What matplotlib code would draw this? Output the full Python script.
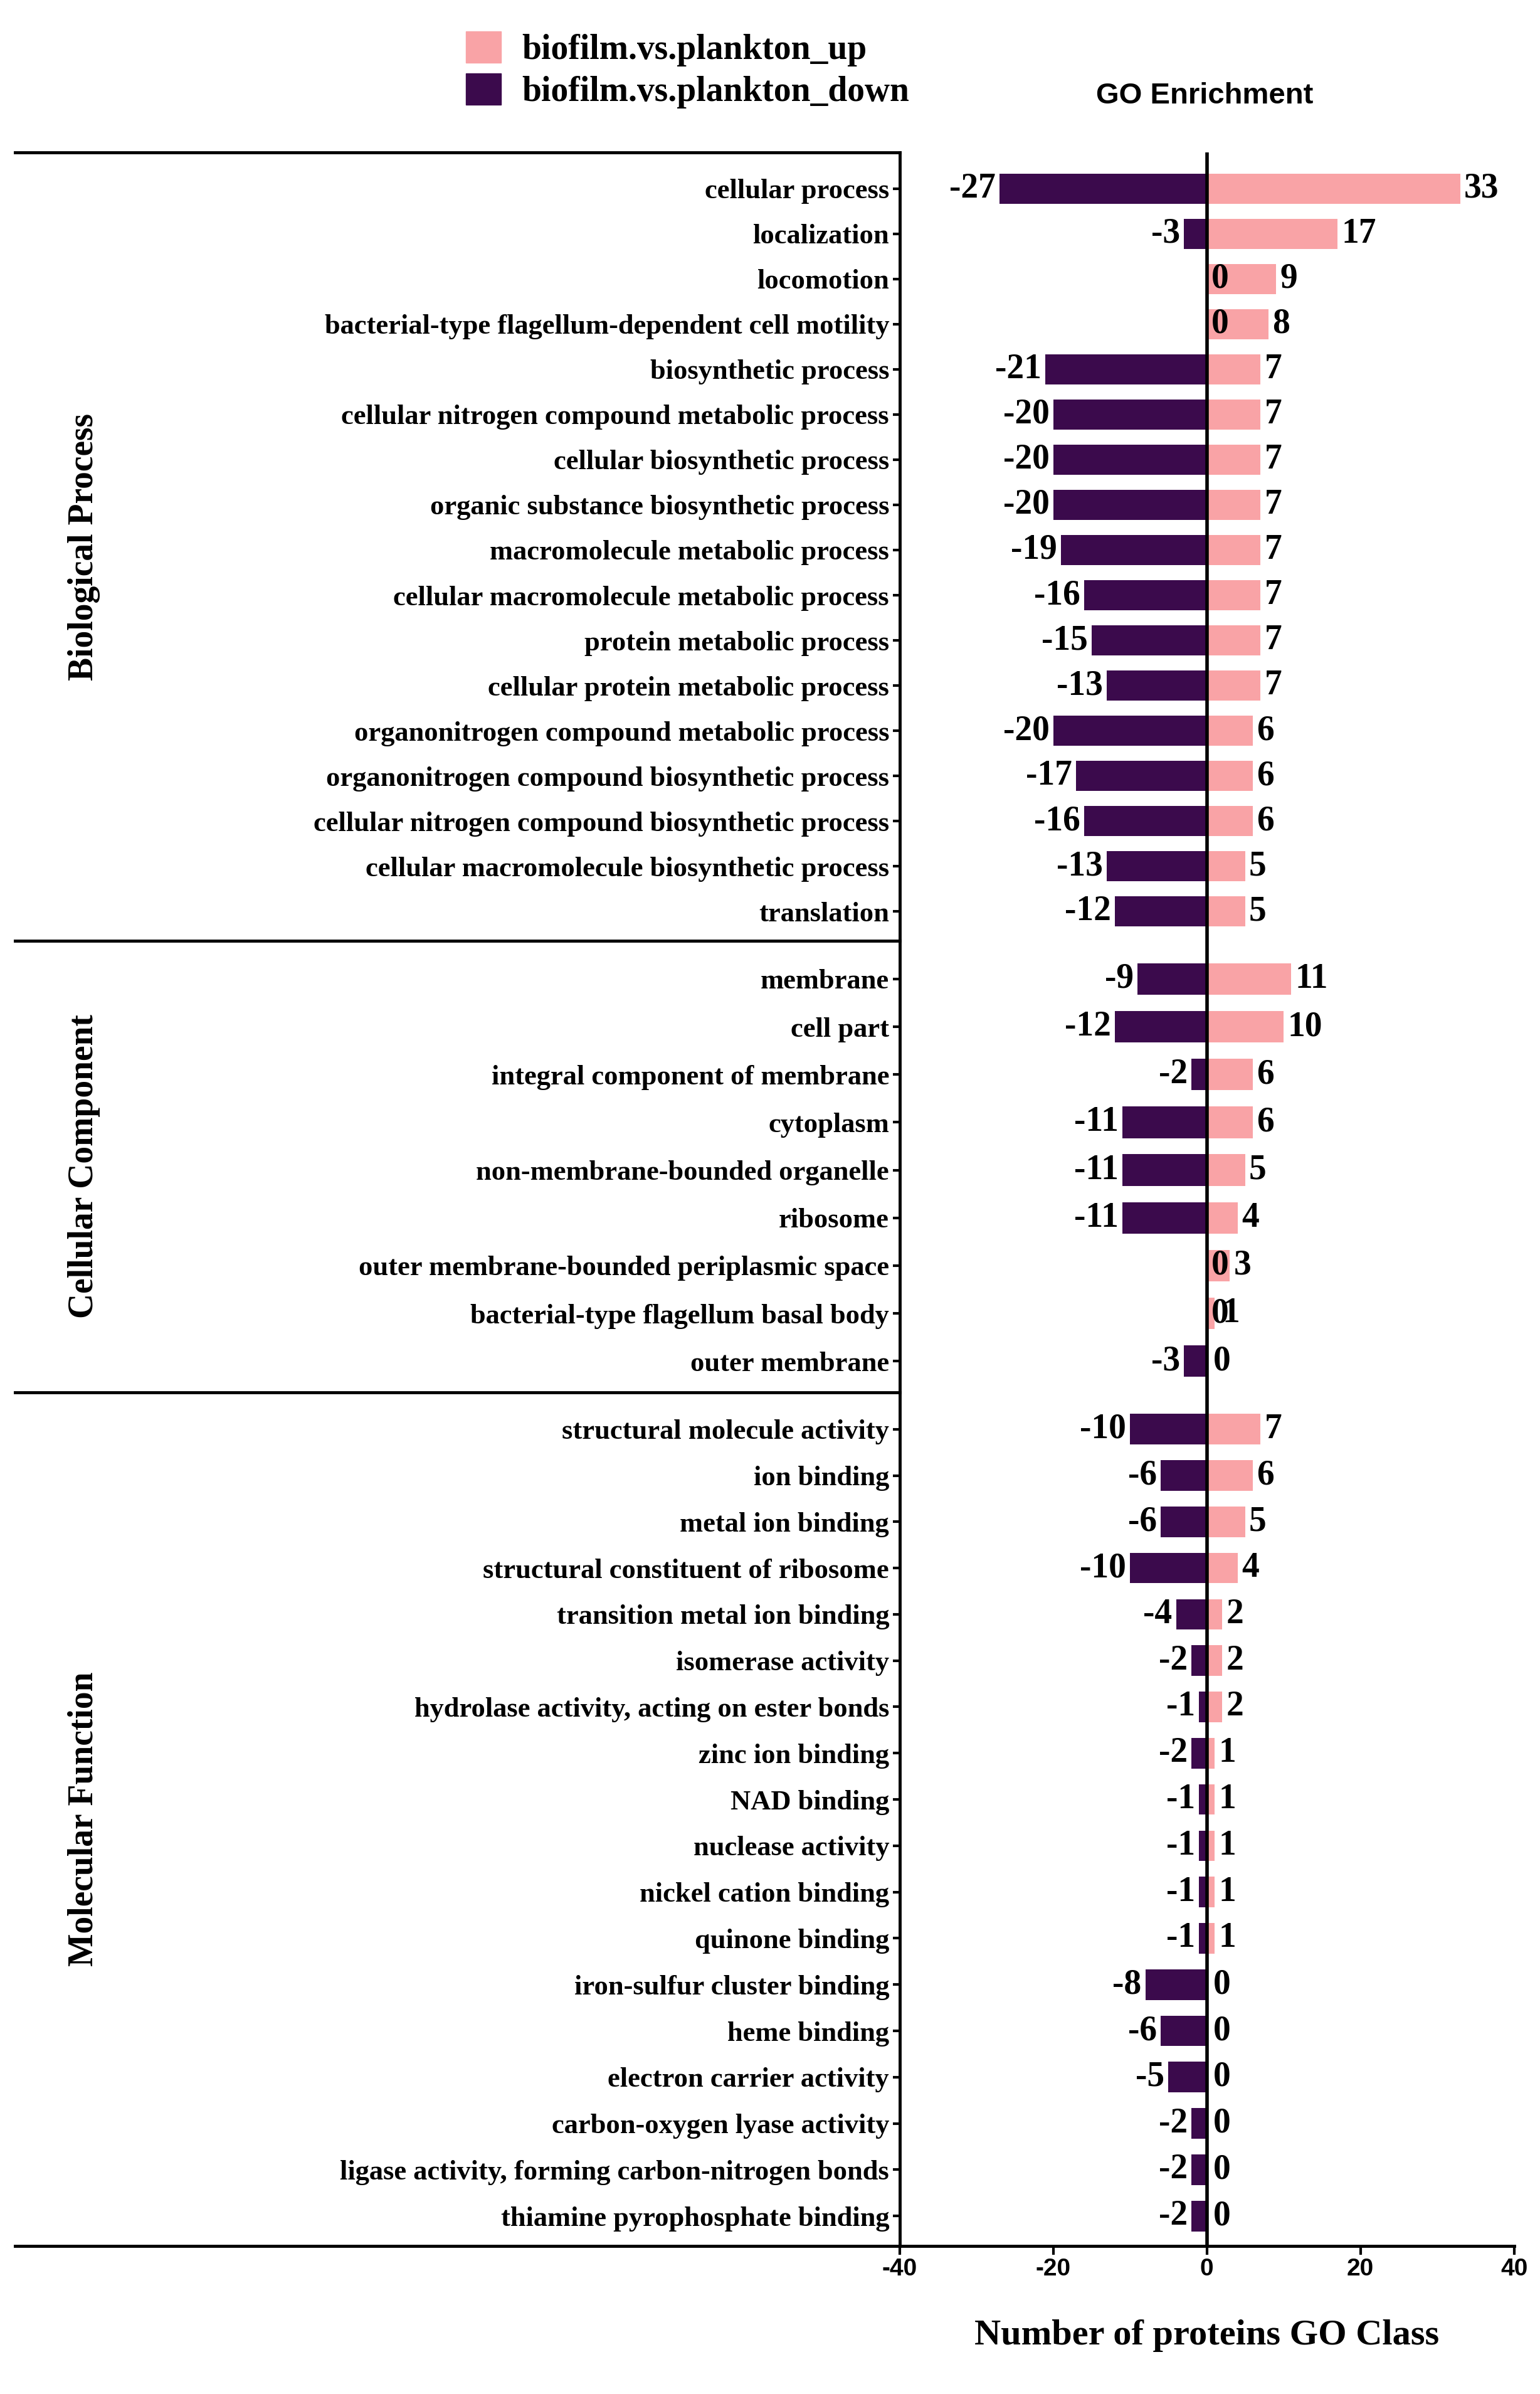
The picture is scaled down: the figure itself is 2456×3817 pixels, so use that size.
import matplotlib
matplotlib.use("Agg")
import matplotlib.pyplot as plt
from matplotlib.patches import Patch
plt.rcParams["axes.unicode_minus"] = False

bp_terms = ["cellular process","localization","locomotion","bacterial-type flagellum-dependent cell motility",
 "biosynthetic process","cellular nitrogen compound metabolic process","cellular biosynthetic process",
 "organic substance biosynthetic process","macromolecule metabolic process","cellular macromolecule metabolic process",
 "protein metabolic process","cellular protein metabolic process","organonitrogen compound metabolic process",
 "organonitrogen compound biosynthetic process","cellular nitrogen compound biosynthetic process",
 "cellular macromolecule biosynthetic process","translation"]
bp_up = [33,17,9,8,7,7,7,7,7,7,7,7,6,6,6,5,5]
bp_down = [-27,-3,0,0,-21,-20,-20,-20,-19,-16,-15,-13,-20,-17,-16,-13,-12]

cc_terms = ["membrane","cell part","integral component of membrane","cytoplasm","non-membrane-bounded organelle",
 "ribosome","outer membrane-bounded periplasmic space","bacterial-type flagellum basal body","outer membrane"]
cc_up = [11,10,6,6,5,4,3,1,0]
cc_down = [-9,-12,-2,-11,-11,-11,0,0,-3]

mf_terms = ["structural molecule activity","ion binding","metal ion binding","structural constituent of ribosome",
 "transition metal ion binding","isomerase activity","hydrolase activity, acting on ester bonds","zinc ion binding",
 "NAD binding","nuclease activity","nickel cation binding","quinone binding","iron-sulfur cluster binding",
 "heme binding","electron carrier activity","carbon-oxygen lyase activity","ligase activity, forming carbon-nitrogen bonds",
 "thiamine pyrophosphate binding"]
mf_up = [7,6,5,4,2,2,2,1,1,1,1,1,0,0,0,0,0,0]
mf_down = [-10,-6,-6,-10,-4,-2,-1,-2,-1,-1,-1,-1,-8,-6,-5,-2,-2,-2]

groups = ["Biological Process","Cellular Component","Molecular Function"]
UP = "#F9A3A6"; DOWN = "#3B0A4C"
serif = "Liberation Serif"; sans = "Liberation Sans"
VF = 40

H = 1570.0; W = 1010.0
fig = plt.figure(figsize=(24.56, 38.17), dpi=100)
panels = [(bp_terms, bp_up, bp_down, 100, 617), (cc_terms, cc_up, cc_down, 617, 913), (mf_terms, mf_up, mf_down, 913, 1473)]
L, R = 590/W, 993/W
for i, (terms, up, down, t, b) in enumerate(panels):
    ax = fig.add_axes([L, 1-b/H, R-L, (b-t)/H])
    n = len(terms)
    y = list(range(n))
    ax.barh(y, up, height=0.66, color=UP)
    ax.barh(y, down, height=0.66, color=DOWN)
    ax.axvline(0, color="black", lw=4)
    ax.set_xlim(-40, 40)
    ax.set_ylim(n-0.35, -0.8)
    ax.set_yticks(y)
    ax.set_yticklabels(terms, fontfamily=serif, fontweight="bold", fontsize=32)
    ax.tick_params(axis="y", length=8, width=3, pad=4)
    for s in ["top", "right"]:
        ax.spines[s].set_visible(False)
    ax.spines["left"].set_linewidth(3.5)
    for yy, u, d in zip(y, up, down):
        if d == 0:
            ax.text(0.6, yy, "0", va="center", ha="left", fontfamily=serif, fontweight="bold", fontsize=VF)
            if u > 0:
                ax.text(u+0.5 if u > 2 else 2.0, yy, str(u), va="center", ha="left", fontfamily=serif, fontweight="bold", fontsize=VF)
        else:
            ax.text(d-0.5, yy, str(d), va="center", ha="right", fontfamily=serif, fontweight="bold", fontsize=VF)
            ax.text(max(u, 0.3)+0.5, yy, str(u), va="center", ha="left", fontfamily=serif, fontweight="bold", fontsize=VF)
    if i < 2:
        ax.spines["bottom"].set_visible(False)
        ax.set_xticks([])
    else:
        ax.spines["bottom"].set_linewidth(3.5)
        ax.set_xticks([-40, -20, 0, 20, 40])
        ax.tick_params(axis="x", length=10, width=3)
        for lab in ax.get_xticklabels():
            lab.set_fontfamily(sans); lab.set_fontweight("bold"); lab.set_fontsize(28)
        ax.set_xlabel("Number of proteins GO Class", fontfamily=serif, fontweight="bold", fontsize=42, labelpad=45)
    fig.add_artist(plt.Line2D([10/W, L], [1-t/H, 1-t/H], color="black", lw=3.5))
    fig.text(55/W, 1-(t+b)/2/H, groups[i], rotation=90, ha="center", va="center",
             fontfamily=serif, fontweight="bold", fontsize=40)
fig.add_artist(plt.Line2D([10/W, L], [1-1473/H, 1-1473/H], color="black", lw=3.5))
fig.text(790/W, 1-63/H, "GO Enrichment", ha="center", va="center", fontfamily=sans, fontweight="bold", fontsize=34)
fig.legend(handles=[Patch(color=UP), Patch(color=DOWN)],
           labels=["biofilm.vs.plankton_up", "biofilm.vs.plankton_down"],
           loc="upper left", bbox_to_anchor=(285/W, 1-0/H), frameon=False,
           prop={"family": serif, "weight": "bold", "size": 40}, handlelength=1.0, handleheight=1.0,
           labelspacing=0.2, handletextpad=0.6)
fig.savefig("out.png", dpi=100)
